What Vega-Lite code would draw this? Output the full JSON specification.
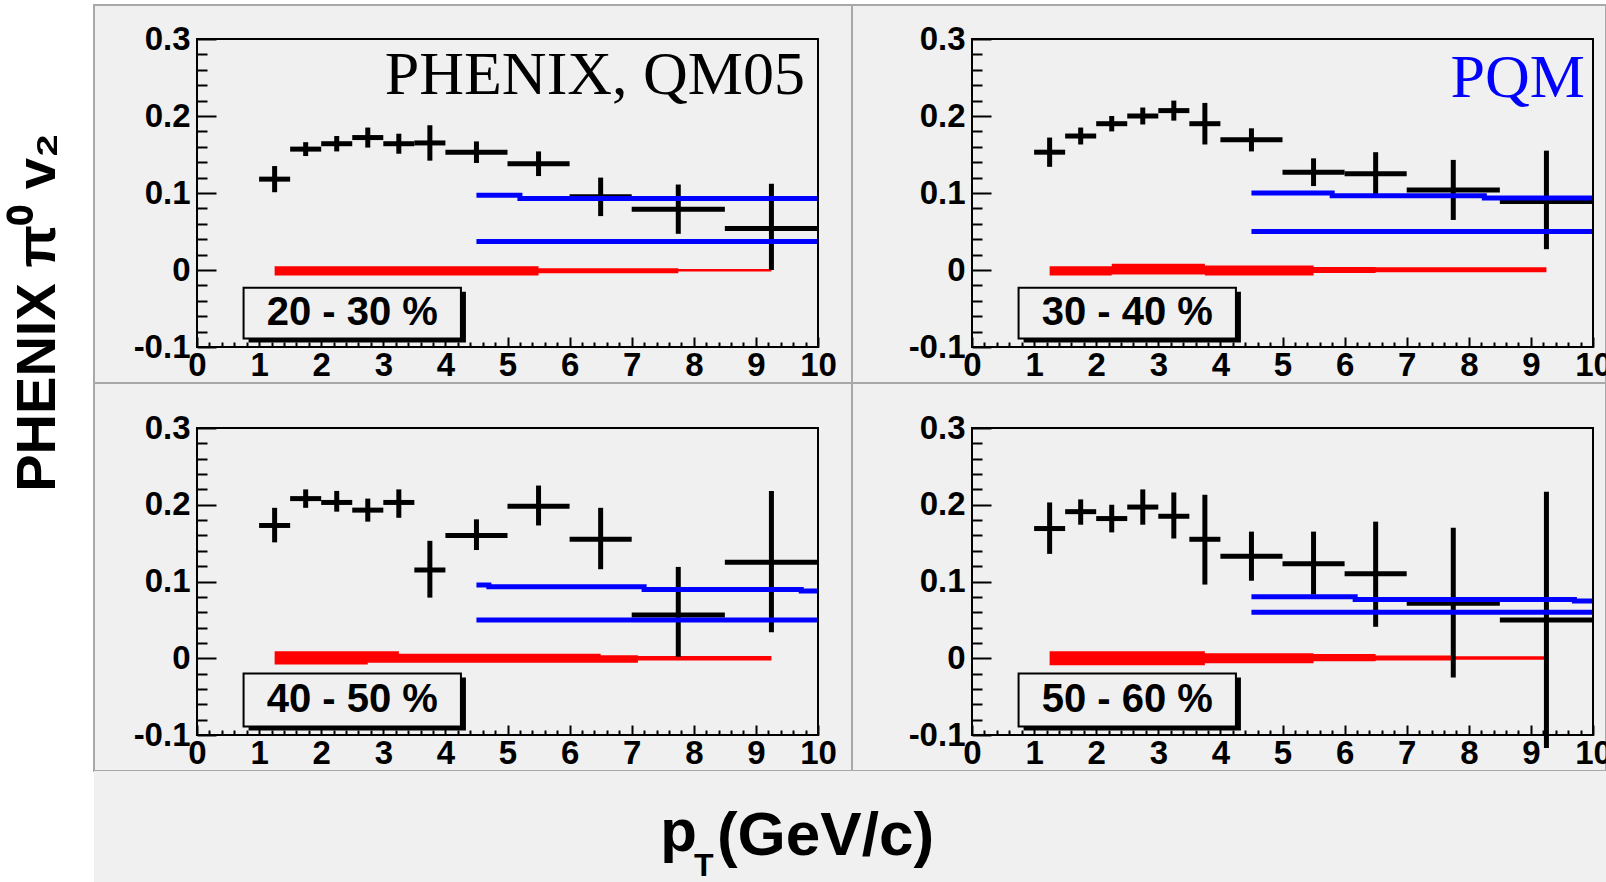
{
"$schema": "https://vega.github.io/schema/vega-lite/v6.json",
"autosize": {"type": "none"},
"padding": {"left": 94, "top": 5, "right": 1512, "bottom": 877},
"background": "white",
"config": {
  "view": {"fill": "#f0f0f0", "stroke": "#a8a8a8", "strokeWidth": 2},
  "axis": {"grid": false, "domain": false, "labelFont": "Liberation Sans", "labelFontWeight": "bold", "labelFontSize": 33, "labelColor": "black", "labelOverlap": false, "labelFlush": false, "tickColor": "black", "tickWidth": 2, "titleFont": "Liberation Sans", "titleFontWeight": "bold", "titleColor": "black"}
},
"data": {"values": [
{"p":"TL","k":"pt","x":1.25,"xlo":1,"xhi":1.5,"v":0.118,"lo":0.101,"hi":0.135},
{"p":"TL","k":"pt","x":1.75,"xlo":1.5,"xhi":2,"v":0.157,"lo":0.148,"hi":0.166},
{"p":"TL","k":"pt","x":2.25,"xlo":2,"xhi":2.5,"v":0.164,"lo":0.154,"hi":0.174},
{"p":"TL","k":"pt","x":2.75,"xlo":2.5,"xhi":3,"v":0.172,"lo":0.159,"hi":0.185},
{"p":"TL","k":"pt","x":3.25,"xlo":3,"xhi":3.5,"v":0.164,"lo":0.151,"hi":0.177},
{"p":"TL","k":"pt","x":3.75,"xlo":3.5,"xhi":4,"v":0.165,"lo":0.142,"hi":0.188},
{"p":"TL","k":"pt","x":4.5,"xlo":4,"xhi":5,"v":0.153,"lo":0.139,"hi":0.167},
{"p":"TL","k":"pt","x":5.5,"xlo":5,"xhi":6,"v":0.138,"lo":0.122,"hi":0.154},
{"p":"TL","k":"pt","x":6.5,"xlo":6,"xhi":7,"v":0.095,"lo":0.07,"hi":0.12},
{"p":"TL","k":"pt","x":7.75,"xlo":7,"xhi":8.5,"v":0.079,"lo":0.047,"hi":0.111},
{"p":"TL","k":"pt","x":9.25,"xlo":8.5,"xhi":10,"v":0.054,"lo":0.0,"hi":0.112},
{"p":"TR","k":"pt","x":1.25,"xlo":1,"xhi":1.5,"v":0.153,"lo":0.134,"hi":0.172},
{"p":"TR","k":"pt","x":1.75,"xlo":1.5,"xhi":2,"v":0.174,"lo":0.163,"hi":0.185},
{"p":"TR","k":"pt","x":2.25,"xlo":2,"xhi":2.5,"v":0.19,"lo":0.18,"hi":0.2},
{"p":"TR","k":"pt","x":2.75,"xlo":2.5,"xhi":3,"v":0.2,"lo":0.189,"hi":0.211},
{"p":"TR","k":"pt","x":3.25,"xlo":3,"xhi":3.5,"v":0.207,"lo":0.194,"hi":0.22},
{"p":"TR","k":"pt","x":3.75,"xlo":3.5,"xhi":4,"v":0.19,"lo":0.163,"hi":0.217},
{"p":"TR","k":"pt","x":4.5,"xlo":4,"xhi":5,"v":0.169,"lo":0.154,"hi":0.184},
{"p":"TR","k":"pt","x":5.5,"xlo":5,"xhi":6,"v":0.127,"lo":0.109,"hi":0.145},
{"p":"TR","k":"pt","x":6.5,"xlo":6,"xhi":7,"v":0.125,"lo":0.097,"hi":0.153},
{"p":"TR","k":"pt","x":7.75,"xlo":7,"xhi":8.5,"v":0.104,"lo":0.065,"hi":0.143},
{"p":"TR","k":"pt","x":9.25,"xlo":8.5,"xhi":10,"v":0.089,"lo":0.027,"hi":0.155},
{"p":"BL","k":"pt","x":1.25,"xlo":1,"xhi":1.5,"v":0.173,"lo":0.151,"hi":0.196},
{"p":"BL","k":"pt","x":1.75,"xlo":1.5,"xhi":2,"v":0.208,"lo":0.196,"hi":0.22},
{"p":"BL","k":"pt","x":2.25,"xlo":2,"xhi":2.5,"v":0.203,"lo":0.191,"hi":0.218},
{"p":"BL","k":"pt","x":2.75,"xlo":2.5,"xhi":3,"v":0.193,"lo":0.178,"hi":0.208},
{"p":"BL","k":"pt","x":3.25,"xlo":3,"xhi":3.5,"v":0.203,"lo":0.183,"hi":0.22},
{"p":"BL","k":"pt","x":3.75,"xlo":3.5,"xhi":4,"v":0.115,"lo":0.079,"hi":0.153},
{"p":"BL","k":"pt","x":4.5,"xlo":4,"xhi":5,"v":0.16,"lo":0.141,"hi":0.181},
{"p":"BL","k":"pt","x":5.5,"xlo":5,"xhi":6,"v":0.198,"lo":0.173,"hi":0.225},
{"p":"BL","k":"pt","x":6.5,"xlo":6,"xhi":7,"v":0.155,"lo":0.116,"hi":0.196},
{"p":"BL","k":"pt","x":7.75,"xlo":7,"xhi":8.5,"v":0.0565,"lo":0.002,"hi":0.119},
{"p":"BL","k":"pt","x":9.25,"xlo":8.5,"xhi":10,"v":0.125,"lo":0.034,"hi":0.218},
{"p":"BR","k":"pt","x":1.25,"xlo":1,"xhi":1.5,"v":0.169,"lo":0.136,"hi":0.203},
{"p":"BR","k":"pt","x":1.75,"xlo":1.5,"xhi":2,"v":0.191,"lo":0.174,"hi":0.207},
{"p":"BR","k":"pt","x":2.25,"xlo":2,"xhi":2.5,"v":0.182,"lo":0.164,"hi":0.2},
{"p":"BR","k":"pt","x":2.75,"xlo":2.5,"xhi":3,"v":0.197,"lo":0.174,"hi":0.22},
{"p":"BR","k":"pt","x":3.25,"xlo":3,"xhi":3.5,"v":0.185,"lo":0.156,"hi":0.216},
{"p":"BR","k":"pt","x":3.75,"xlo":3.5,"xhi":4,"v":0.155,"lo":0.096,"hi":0.213},
{"p":"BR","k":"pt","x":4.5,"xlo":4,"xhi":5,"v":0.133,"lo":0.101,"hi":0.165},
{"p":"BR","k":"pt","x":5.5,"xlo":5,"xhi":6,"v":0.123,"lo":0.083,"hi":0.165},
{"p":"BR","k":"pt","x":6.5,"xlo":6,"xhi":7,"v":0.11,"lo":0.041,"hi":0.178},
{"p":"BR","k":"pt","x":7.75,"xlo":7,"xhi":8.5,"v":0.0715,"lo":-0.025,"hi":0.17},
{"p":"BR","k":"pt","x":9.25,"xlo":8.5,"xhi":10,"v":0.05,"lo":-0.117,"hi":0.217},
{"p":"TL","k":"band","x":1.25,"lo":-0.007,"hi":0.005},
{"p":"TL","k":"band","x":5.5,"lo":-0.0043,"hi":0.0022},
{"p":"TL","k":"band","x":7.75,"lo":-0.002,"hi":0.0013},
{"p":"TL","k":"band","x":9.25,"lo":-0.002,"hi":0.0013},
{"p":"TR","k":"band","x":1.25,"lo":-0.007,"hi":0.005},
{"p":"TR","k":"band","x":2.25,"lo":-0.006,"hi":0.008},
{"p":"TR","k":"band","x":3.75,"lo":-0.007,"hi":0.006},
{"p":"TR","k":"band","x":5.5,"lo":-0.004,"hi":0.004},
{"p":"TR","k":"band","x":6.5,"lo":-0.003,"hi":0.0035},
{"p":"TR","k":"band","x":9.25,"lo":-0.003,"hi":0.0035},
{"p":"BL","k":"band","x":1.25,"lo":-0.008,"hi":0.009},
{"p":"BL","k":"band","x":2.75,"lo":-0.006,"hi":0.009},
{"p":"BL","k":"band","x":3.25,"lo":-0.006,"hi":0.006},
{"p":"BL","k":"band","x":6.5,"lo":-0.006,"hi":0.004},
{"p":"BL","k":"band","x":7.1,"lo":-0.003,"hi":0.003},
{"p":"BL","k":"band","x":9.25,"lo":-0.003,"hi":0.003},
{"p":"BR","k":"band","x":1.25,"lo":-0.009,"hi":0.009},
{"p":"BR","k":"band","x":3.75,"lo":-0.0065,"hi":0.0065},
{"p":"BR","k":"band","x":5.5,"lo":-0.004,"hi":0.0055},
{"p":"BR","k":"band","x":6.5,"lo":-0.003,"hi":0.0035},
{"p":"BR","k":"band","x":7.75,"lo":-0.002,"hi":0.0025},
{"p":"BR","k":"band","x":9.25,"lo":-0.002,"hi":0.0025},
{"p":"TL","k":"pqm","c":"a","x":4.5,"v":0.097},
{"p":"TL","k":"pqm","c":"a","x":5.2,"v":0.093},
{"p":"TL","k":"pqm","c":"a","x":10,"v":0.093},
{"p":"TL","k":"pqm","c":"b","x":4.5,"v":0.037},
{"p":"TL","k":"pqm","c":"b","x":10,"v":0.037},
{"p":"TR","k":"pqm","c":"a","x":4.5,"v":0.1},
{"p":"TR","k":"pqm","c":"a","x":5.8,"v":0.0965},
{"p":"TR","k":"pqm","c":"a","x":8.25,"v":0.0935},
{"p":"TR","k":"pqm","c":"a","x":10,"v":0.0935},
{"p":"TR","k":"pqm","c":"b","x":4.5,"v":0.05},
{"p":"TR","k":"pqm","c":"b","x":10,"v":0.05},
{"p":"BL","k":"pqm","c":"a","x":4.5,"v":0.0953},
{"p":"BL","k":"pqm","c":"a","x":4.7,"v":0.0931},
{"p":"BL","k":"pqm","c":"a","x":7.2,"v":0.0897},
{"p":"BL","k":"pqm","c":"a","x":9.73,"v":0.0875},
{"p":"BL","k":"pqm","c":"a","x":10,"v":0.0875},
{"p":"BL","k":"pqm","c":"b","x":4.5,"v":0.05},
{"p":"BL","k":"pqm","c":"b","x":10,"v":0.05},
{"p":"BR","k":"pqm","c":"a","x":4.5,"v":0.08},
{"p":"BR","k":"pqm","c":"a","x":6.17,"v":0.0767},
{"p":"BR","k":"pqm","c":"a","x":9.7,"v":0.0746},
{"p":"BR","k":"pqm","c":"a","x":10,"v":0.0746},
{"p":"BR","k":"pqm","c":"b","x":4.5,"v":0.06},
{"p":"BR","k":"pqm","c":"b","x":10,"v":0.06},
{"p":"TL","k":"label","text":"20 - 30 %"},
{"p":"TR","k":"label","text":"30 - 40 %"},
{"p":"BL","k":"label","text":"40 - 50 %"},
{"p":"BR","k":"label","text":"50 - 60 %"},
{"p":"TL","k":"note","text":"PHENIX, QM05"},
{"p":"TR","k":"note","text":"PQM"}
]},
"concat": [
{
 "width": 758, "height": 378,
 "transform": [{"filter": "datum.p == 'TL'"}],
 "resolve": {"axis": {"x": "independent", "y": "independent"}},
 "layer": [
  {"transform": [{"filter": "datum.k == 'band'"}],
   "mark": {"type": "area", "interpolate": "step-after", "color": "#ff0000"},
   "encoding": {
     "x": {"field": "x", "type": "quantitative", "scale": {"domain": [0, 10], "range": [103, 724], "nice": false, "zero": false},
       "axis": {"title": null, "orient": "bottom", "offset": -36, "values": [0,1,2,3,4,5,6,7,8,9,10], "tickSize": -10, "labelPadding": 12, "labelFlush": false, "labelOverlap": false}},
     "y": {"field": "lo", "type": "quantitative", "scale": {"domain": [-0.1, 0.3], "range": [342, 34], "nice": false, "zero": false},
       "axis": {"title": "PHENIX π⁰ v₂", "titleX": -160, "titleY": 307, "titleAngle": -90, "titleAlign": "center", "titleBaseline": "middle", "titleFontSize": 56,
         "orient": "left", "offset": -103, "values": [-0.1,0,0.1,0.2,0.3], "tickSize": -19, "labelPadding": 26, "labelOverlap": false,
         "labelExpr": "datum.value < -0.05 ? '-0.1' : (abs(datum.value) < 0.01 ? '0' : format(datum.value, '.1f'))"}},
     "y2": {"field": "hi"}
   }},
  {"transform": [{"filter": "datum.k == 'pt'"}],
   "mark": {"type": "rule", "color": "black", "strokeWidth": 5, "clip": true},
   "encoding": {"x": {"field": "xlo", "type": "quantitative", "axis": null}, "x2": {"field": "xhi"}, "y": {"field": "v", "type": "quantitative", "axis": null}}},
  {"transform": [{"filter": "datum.k == 'pt'"}],
   "mark": {"type": "rule", "color": "black", "strokeWidth": 5, "clip": true},
   "encoding": {
     "x": {"field": "x", "type": "quantitative", "axis": {"title": null, "orient": "bottom", "offset": -36, "labels": false, "tickSize": -5, "values": [0.2,0.4,0.6,0.8,1.2,1.4,1.6,1.8,2.2,2.4,2.6,2.8,3.2,3.4,3.6,3.8,4.2,4.4,4.6,4.8,5.2,5.4,5.6,5.8,6.2,6.4,6.6,6.8,7.2,7.4,7.6,7.8,8.2,8.4,8.6,8.8,9.2,9.4,9.6,9.8]}},
     "y": {"field": "lo", "type": "quantitative", "axis": {"title": null, "orient": "left", "offset": -103, "labels": false, "tickSize": -10, "values": [-0.08,-0.06,-0.04,-0.02,0.02,0.04,0.06,0.08,0.12,0.14,0.16,0.18,0.22,0.24,0.26,0.28]}},
     "y2": {"field": "hi"}}},
  {"transform": [{"filter": "datum.k == 'pqm'"}],
   "mark": {"type": "line", "interpolate": "step-after", "color": "#0000ff", "strokeWidth": 5},
   "encoding": {"x": {"field": "x", "type": "quantitative", "axis": null}, "y": {"field": "v", "type": "quantitative", "axis": null}, "detail": {"field": "c", "type": "nominal"}}},
  {"transform": [{"filter": "datum.k == 'label'"}],
   "mark": {"type": "rect", "color": "black", "xOffset": 5, "x2Offset": 5, "yOffset": 4, "y2Offset": 4},
   "encoding": {"x": {"datum": 0.75, "axis": null}, "x2": {"datum": 4.25}, "y": {"datum": -0.023, "axis": null}, "y2": {"datum": -0.089}}},
  {"transform": [{"filter": "datum.k == 'label'"}],
   "mark": {"type": "rect", "fill": "#f0f0f0", "stroke": "black", "strokeWidth": 2},
   "encoding": {"x": {"datum": 0.75, "axis": null}, "x2": {"datum": 4.25}, "y": {"datum": -0.023, "axis": null}, "y2": {"datum": -0.089}}},
  {"transform": [{"filter": "datum.k == 'label'"}],
   "mark": {"type": "text", "font": "Liberation Sans", "fontWeight": "bold", "fontSize": 40, "align": "center", "baseline": "middle", "color": "black"},
   "encoding": {"x": {"datum": 2.5, "axis": null}, "y": {"datum": -0.056, "axis": null}, "text": {"field": "text"}}},
  {"transform": [{"filter": "datum.k == 'note'"}],
   "mark": {"type": "text", "font": "Liberation Serif", "fontSize": 62, "align": "right", "baseline": "alphabetic", "color": "black"},
   "encoding": {"x": {"datum": 9.79, "axis": null}, "y": {"datum": 0.2286, "axis": null}, "text": {"field": "text"}}},
  {"transform": [{"filter": "datum.k == 'label'"}],
   "mark": {"type": "rect", "fillOpacity": 0, "stroke": "black", "strokeWidth": 2},
   "encoding": {"x": {"datum": 0, "axis": null}, "x2": {"datum": 10}, "y": {"datum": -0.1, "axis": null}, "y2": {"datum": 0.3}}}
 ]
},
{
 "width": 754, "height": 378,
 "transform": [{"filter": "datum.p == 'TR'"}],
 "resolve": {"axis": {"x": "independent", "y": "independent"}},
 "layer": [
  {"transform": [{"filter": "datum.k == 'band'"}],
   "mark": {"type": "area", "interpolate": "step-after", "color": "#ff0000"},
   "encoding": {
     "x": {"field": "x", "type": "quantitative", "scale": {"domain": [0, 10], "range": [120, 741], "nice": false, "zero": false},
       "axis": {"title": null, "orient": "bottom", "offset": -36, "values": [0,1,2,3,4,5,6,7,8,9,10], "tickSize": -10, "labelPadding": 12, "labelFlush": false, "labelOverlap": false}},
     "y": {"field": "lo", "type": "quantitative", "scale": {"domain": [-0.1, 0.3], "range": [342, 34], "nice": false, "zero": false},
       "axis": {"title": null, "orient": "left", "offset": -120, "values": [-0.1,0,0.1,0.2,0.3], "tickSize": -19, "labelPadding": 26, "labelOverlap": false,
         "labelExpr": "datum.value < -0.05 ? '-0.1' : (abs(datum.value) < 0.01 ? '0' : format(datum.value, '.1f'))"}},
     "y2": {"field": "hi"}
   }},
  {"transform": [{"filter": "datum.k == 'pt'"}],
   "mark": {"type": "rule", "color": "black", "strokeWidth": 5, "clip": true},
   "encoding": {"x": {"field": "xlo", "type": "quantitative", "axis": null}, "x2": {"field": "xhi"}, "y": {"field": "v", "type": "quantitative", "axis": null}}},
  {"transform": [{"filter": "datum.k == 'pt'"}],
   "mark": {"type": "rule", "color": "black", "strokeWidth": 5, "clip": true},
   "encoding": {
     "x": {"field": "x", "type": "quantitative", "axis": {"title": null, "orient": "bottom", "offset": -36, "labels": false, "tickSize": -5, "values": [0.2,0.4,0.6,0.8,1.2,1.4,1.6,1.8,2.2,2.4,2.6,2.8,3.2,3.4,3.6,3.8,4.2,4.4,4.6,4.8,5.2,5.4,5.6,5.8,6.2,6.4,6.6,6.8,7.2,7.4,7.6,7.8,8.2,8.4,8.6,8.8,9.2,9.4,9.6,9.8]}},
     "y": {"field": "lo", "type": "quantitative", "axis": {"title": null, "orient": "left", "offset": -120, "labels": false, "tickSize": -10, "values": [-0.08,-0.06,-0.04,-0.02,0.02,0.04,0.06,0.08,0.12,0.14,0.16,0.18,0.22,0.24,0.26,0.28]}},
     "y2": {"field": "hi"}}},
  {"transform": [{"filter": "datum.k == 'pqm'"}],
   "mark": {"type": "line", "interpolate": "step-after", "color": "#0000ff", "strokeWidth": 5},
   "encoding": {"x": {"field": "x", "type": "quantitative", "axis": null}, "y": {"field": "v", "type": "quantitative", "axis": null}, "detail": {"field": "c", "type": "nominal"}}},
  {"transform": [{"filter": "datum.k == 'label'"}],
   "mark": {"type": "rect", "color": "black", "xOffset": 5, "x2Offset": 5, "yOffset": 4, "y2Offset": 4},
   "encoding": {"x": {"datum": 0.75, "axis": null}, "x2": {"datum": 4.25}, "y": {"datum": -0.023, "axis": null}, "y2": {"datum": -0.089}}},
  {"transform": [{"filter": "datum.k == 'label'"}],
   "mark": {"type": "rect", "fill": "#f0f0f0", "stroke": "black", "strokeWidth": 2},
   "encoding": {"x": {"datum": 0.75, "axis": null}, "x2": {"datum": 4.25}, "y": {"datum": -0.023, "axis": null}, "y2": {"datum": -0.089}}},
  {"transform": [{"filter": "datum.k == 'label'"}],
   "mark": {"type": "text", "font": "Liberation Sans", "fontWeight": "bold", "fontSize": 40, "align": "center", "baseline": "middle", "color": "black"},
   "encoding": {"x": {"datum": 2.5, "axis": null}, "y": {"datum": -0.056, "axis": null}, "text": {"field": "text"}}},
  {"transform": [{"filter": "datum.k == 'note'"}],
   "mark": {"type": "text", "font": "Liberation Serif", "fontSize": 62, "align": "right", "baseline": "alphabetic", "color": "#0000ff"},
   "encoding": {"x": {"datum": 9.87, "axis": null}, "y": {"datum": 0.2247, "axis": null}, "text": {"field": "text"}}},
  {"transform": [{"filter": "datum.k == 'label'"}],
   "mark": {"type": "rect", "fillOpacity": 0, "stroke": "black", "strokeWidth": 2},
   "encoding": {"x": {"datum": 0, "axis": null}, "x2": {"datum": 10}, "y": {"datum": -0.1, "axis": null}, "y2": {"datum": 0.3}}}
 ]
},
{
 "width": 758, "height": 388,
 "transform": [{"filter": "datum.p == 'BL'"}],
 "resolve": {"axis": {"x": "independent", "y": "independent"}},
 "layer": [
  {"transform": [{"filter": "datum.k == 'band'"}],
   "mark": {"type": "area", "interpolate": "step-after", "color": "#ff0000"},
   "encoding": {
     "x": {"field": "x", "type": "quantitative", "scale": {"domain": [0, 10], "range": [103, 724], "nice": false, "zero": false},
       "axis": {"title": null, "orient": "bottom", "offset": -36, "values": [0,1,2,3,4,5,6,7,8,9,10], "tickSize": -10, "labelPadding": 12, "labelFlush": false, "labelOverlap": false}},
     "y": {"field": "lo", "type": "quantitative", "scale": {"domain": [-0.1, 0.3], "range": [352, 45], "nice": false, "zero": false},
       "axis": {"title": null, "orient": "left", "offset": -103, "values": [-0.1,0,0.1,0.2,0.3], "tickSize": -19, "labelPadding": 26, "labelOverlap": false,
         "labelExpr": "datum.value < -0.05 ? '-0.1' : (abs(datum.value) < 0.01 ? '0' : format(datum.value, '.1f'))"}},
     "y2": {"field": "hi"}
   }},
  {"transform": [{"filter": "datum.k == 'pt'"}],
   "mark": {"type": "rule", "color": "black", "strokeWidth": 5, "clip": true},
   "encoding": {"x": {"field": "xlo", "type": "quantitative", "axis": null}, "x2": {"field": "xhi"}, "y": {"field": "v", "type": "quantitative", "axis": null}}},
  {"transform": [{"filter": "datum.k == 'pt'"}],
   "mark": {"type": "rule", "color": "black", "strokeWidth": 5, "clip": true},
   "encoding": {
     "x": {"field": "x", "type": "quantitative", "axis": {"title": null, "orient": "bottom", "offset": -36, "labels": false, "tickSize": -5, "values": [0.2,0.4,0.6,0.8,1.2,1.4,1.6,1.8,2.2,2.4,2.6,2.8,3.2,3.4,3.6,3.8,4.2,4.4,4.6,4.8,5.2,5.4,5.6,5.8,6.2,6.4,6.6,6.8,7.2,7.4,7.6,7.8,8.2,8.4,8.6,8.8,9.2,9.4,9.6,9.8]}},
     "y": {"field": "lo", "type": "quantitative", "axis": {"title": null, "orient": "left", "offset": -103, "labels": false, "tickSize": -10, "values": [-0.08,-0.06,-0.04,-0.02,0.02,0.04,0.06,0.08,0.12,0.14,0.16,0.18,0.22,0.24,0.26,0.28]}},
     "y2": {"field": "hi"}}},
  {"transform": [{"filter": "datum.k == 'pqm'"}],
   "mark": {"type": "line", "interpolate": "step-after", "color": "#0000ff", "strokeWidth": 5},
   "encoding": {"x": {"field": "x", "type": "quantitative", "axis": null}, "y": {"field": "v", "type": "quantitative", "axis": null}, "detail": {"field": "c", "type": "nominal"}}},
  {"transform": [{"filter": "datum.k == 'label'"}],
   "mark": {"type": "rect", "color": "black", "xOffset": 5, "x2Offset": 5, "yOffset": 4, "y2Offset": 4},
   "encoding": {"x": {"datum": 0.75, "axis": null}, "x2": {"datum": 4.25}, "y": {"datum": -0.02, "axis": null}, "y2": {"datum": -0.089}}},
  {"transform": [{"filter": "datum.k == 'label'"}],
   "mark": {"type": "rect", "fill": "#f0f0f0", "stroke": "black", "strokeWidth": 2},
   "encoding": {"x": {"datum": 0.75, "axis": null}, "x2": {"datum": 4.25}, "y": {"datum": -0.02, "axis": null}, "y2": {"datum": -0.089}}},
  {"transform": [{"filter": "datum.k == 'label'"}],
   "mark": {"type": "text", "font": "Liberation Sans", "fontWeight": "bold", "fontSize": 40, "align": "center", "baseline": "middle", "color": "black"},
   "encoding": {"x": {"datum": 2.5, "axis": null}, "y": {"datum": -0.055, "axis": null}, "text": {"field": "text"}}},
  {"transform": [{"filter": "datum.k == 'label'"}],
   "mark": {"type": "rect", "fillOpacity": 0, "stroke": "black", "strokeWidth": 2},
   "encoding": {"x": {"datum": 0, "axis": null}, "x2": {"datum": 10}, "y": {"datum": -0.1, "axis": null}, "y2": {"datum": 0.3}}}
 ]
},
{
 "width": 754, "height": 388,
 "transform": [{"filter": "datum.p == 'BR'"}],
 "resolve": {"axis": {"x": "independent", "y": "independent"}},
 "layer": [
  {"transform": [{"filter": "datum.k == 'band'"}],
   "mark": {"type": "area", "interpolate": "step-after", "color": "#ff0000"},
   "encoding": {
     "x": {"field": "x", "type": "quantitative", "scale": {"domain": [0, 10], "range": [120, 741], "nice": false, "zero": false},
       "axis": {"title": null, "orient": "bottom", "offset": -36, "values": [0,1,2,3,4,5,6,7,8,9,10], "tickSize": -10, "labelPadding": 12, "labelFlush": false, "labelOverlap": false}},
     "y": {"field": "lo", "type": "quantitative", "scale": {"domain": [-0.1, 0.3], "range": [352, 45], "nice": false, "zero": false},
       "axis": {"title": null, "orient": "left", "offset": -120, "values": [-0.1,0,0.1,0.2,0.3], "tickSize": -19, "labelPadding": 26, "labelOverlap": false,
         "labelExpr": "datum.value < -0.05 ? '-0.1' : (abs(datum.value) < 0.01 ? '0' : format(datum.value, '.1f'))"}},
     "y2": {"field": "hi"}
   }},
  {"transform": [{"filter": "datum.k == 'pt'"}],
   "mark": {"type": "rule", "color": "black", "strokeWidth": 5, "clip": true},
   "encoding": {"x": {"field": "xlo", "type": "quantitative", "axis": null}, "x2": {"field": "xhi"}, "y": {"field": "v", "type": "quantitative", "axis": null}}},
  {"transform": [{"filter": "datum.k == 'pt'"}],
   "mark": {"type": "rule", "color": "black", "strokeWidth": 5, "clip": true},
   "encoding": {
     "x": {"field": "x", "type": "quantitative", "axis": {"title": null, "orient": "bottom", "offset": -36, "labels": false, "tickSize": -5, "values": [0.2,0.4,0.6,0.8,1.2,1.4,1.6,1.8,2.2,2.4,2.6,2.8,3.2,3.4,3.6,3.8,4.2,4.4,4.6,4.8,5.2,5.4,5.6,5.8,6.2,6.4,6.6,6.8,7.2,7.4,7.6,7.8,8.2,8.4,8.6,8.8,9.2,9.4,9.6,9.8]}},
     "y": {"field": "lo", "type": "quantitative", "axis": {"title": null, "orient": "left", "offset": -120, "labels": false, "tickSize": -10, "values": [-0.08,-0.06,-0.04,-0.02,0.02,0.04,0.06,0.08,0.12,0.14,0.16,0.18,0.22,0.24,0.26,0.28]}},
     "y2": {"field": "hi"}}},
  {"transform": [{"filter": "datum.k == 'pqm'"}],
   "mark": {"type": "line", "interpolate": "step-after", "color": "#0000ff", "strokeWidth": 5},
   "encoding": {"x": {"field": "x", "type": "quantitative", "axis": null}, "y": {"field": "v", "type": "quantitative", "axis": null}, "detail": {"field": "c", "type": "nominal"}}},
  {"transform": [{"filter": "datum.k == 'label'"}],
   "mark": {"type": "rect", "color": "black", "xOffset": 5, "x2Offset": 5, "yOffset": 4, "y2Offset": 4},
   "encoding": {"x": {"datum": 0.75, "axis": null}, "x2": {"datum": 4.25}, "y": {"datum": -0.02, "axis": null}, "y2": {"datum": -0.089}}},
  {"transform": [{"filter": "datum.k == 'label'"}],
   "mark": {"type": "rect", "fill": "#f0f0f0", "stroke": "black", "strokeWidth": 2},
   "encoding": {"x": {"datum": 0.75, "axis": null}, "x2": {"datum": 4.25}, "y": {"datum": -0.02, "axis": null}, "y2": {"datum": -0.089}}},
  {"transform": [{"filter": "datum.k == 'label'"}],
   "mark": {"type": "text", "font": "Liberation Sans", "fontWeight": "bold", "fontSize": 40, "align": "center", "baseline": "middle", "color": "black"},
   "encoding": {"x": {"datum": 2.5, "axis": null}, "y": {"datum": -0.055, "axis": null}, "text": {"field": "text"}}},
  {"transform": [{"filter": "datum.k == 'label'"}],
   "mark": {"type": "rect", "fillOpacity": 0, "stroke": "black", "strokeWidth": 2},
   "encoding": {"x": {"datum": 0, "axis": null}, "x2": {"datum": 10}, "y": {"datum": -0.1, "axis": null}, "y2": {"datum": 0.3}}}
 ]
},
{
 "width": 758, "height": 111,
 "view": {"fill": "#f0f0f0", "stroke": null},
 "transform": [{"filter": "datum.k == 'note' && datum.p == 'TL'"}],
 "mark": {"type": "point", "opacity": 0}
},
{
 "width": 754, "height": 111,
 "view": {"fill": "#f0f0f0", "stroke": null},
 "title": {"text": "T", "orient": "bottom", "anchor": "start", "frame": "group", "dx": -158, "dy": -6, "offset": 0, "font": "Liberation Sans", "fontWeight": "bold", "fontSize": 32, "color": "black", "baseline": "alphabetic"},
 "transform": [{"filter": "datum.k == 'pt' && datum.p == 'TL'"}],
 "mark": {"type": "point", "opacity": 0},
 "encoding": {
  "x": {"field": "x", "type": "quantitative", "axis": {"orient": "top", "title": "(GeV/c)", "labels": false, "ticks": false, "domain": false, "titleX": -27, "titleY": 83, "titleAlign": "center", "titleBaseline": "alphabetic", "titleAngle": 0, "titleFontSize": 62}},
  "y": {"field": "v", "type": "quantitative", "axis": {"orient": "left", "title": "p", "labels": false, "ticks": false, "domain": false, "titleX": -174, "titleY": 79, "titleAlign": "center", "titleBaseline": "alphabetic", "titleAngle": 0, "titleFontSize": 60}}
 }
}
],
"columns": 2,
"align": "each",
"bounds": "flush",
"spacing": 0
}
